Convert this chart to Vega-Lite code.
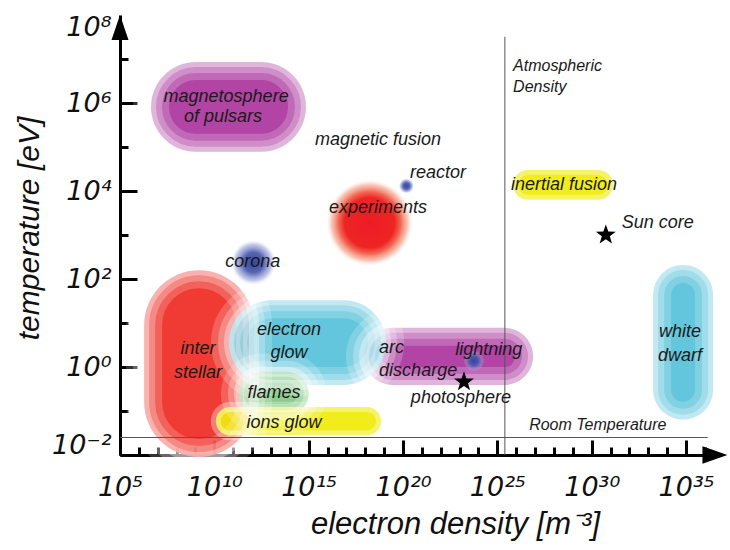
{
  "$schema": "https://vega.github.io/schema/vega-lite/v6.json",
  "width": 600,
  "height": 440,
  "autosize": {"type": "none"},
  "padding": {"left": 120, "top": 15, "right": 10, "bottom": 95},
  "background": "white",
  "config": {"view": {"stroke": null}},
  "datasets": {
    "refs": [
      {"name": "Atmospheric Density", "n": 2.5e25, "n2": 2.5e25, "T": 0.01, "T2": 3.2e7},
      {"name": "Room Temperature", "n": 1e5, "n2": 1.4e36, "T": 0.025, "T2": 0.025}
    ],
    "regions": [
      {"name": "magnetosphere of pulsars", "n": 4.4e6, "n2": 7.2e14, "T": 7.8e4, "T2": 8.5e6},
      {"name": "interstellar", "n": 1.9e6, "n2": 1.26e12, "T": 0.009, "T2": 158},
      {"name": "electron glow", "n": 6.0e10, "n2": 1.26e19, "T": 0.39, "T2": 33},
      {"name": "flames", "n": 2.0e11, "n2": 1.0e15, "T": 0.081, "T2": 0.78},
      {"name": "ions glow", "n": 1.2e10, "n2": 6.8e18, "T": 0.028, "T2": 0.123},
      {"name": "arc discharge", "n": 8.5e17, "n2": 7.8e26, "T": 0.39, "T2": 7.8},
      {"name": "inertial fusion", "n": 6.8e25, "n2": 1.35e31, "T": 6.3e3, "T2": 3.0e4},
      {"name": "white dwarf", "n": 1.8e33, "n2": 2.7e36, "T": 0.063, "T2": 209},
      {"name": "experiments", "n": 8.3e15, "n2": 3.4e20, "T": 138, "T2": 2.6e4},
      {"name": "corona", "n": 6.0e10, "n2": 2.3e13, "T": 72, "T2": 776},
      {"name": "reactor", "n": 6.0e19, "n2": 3.8e20, "T": 8.5e3, "T2": 2.0e4},
      {"name": "lightning", "n": 1.5e23, "n2": 2.2e24, "T": 0.78, "T2": 2.45}
    ],
    "stars": [
      {"name": "photosphere", "n": 1.7e23, "T": 0.46},
      {"name": "Sun core", "n": 5.6e30, "T": 1000}
    ],
    "arrow_y": [{"n": 1e5, "T": 5.2e7}],
    "arrow_x": [{"n": 3.4e36, "T": 0.01}],
    "labels": [
      {"label": "magnetosphere", "n": 4.2e10, "T": 1.4e6},
      {"label": "of pulsars", "n": 2.9e10, "T": 4.8e5},
      {"label": "magnetic fusion", "n": 4.7e18, "T": 1.45e5},
      {"label": "reactor", "n": 7.1e21, "T": 2.6e4},
      {"label": "experiments", "n": 4.7e18, "T": 4.1e3},
      {"label": "corona", "n": 1.1e12, "T": 245},
      {"label": "inter", "n": 1.35e9, "T": 2.57},
      {"label": "stellar", "n": 1.35e9, "T": 0.72},
      {"label": "electron", "n": 9.1e13, "T": 6.9},
      {"label": "glow", "n": 9.1e13, "T": 2.1},
      {"label": "flames", "n": 1.45e13, "T": 0.257},
      {"label": "ions glow", "n": 4.9e13, "T": 0.054},
      {"label": "lightning", "n": 3.5e24, "T": 2.45},
      {"label": "photosphere", "n": 1.17e23, "T": 0.2},
      {"label": "inertial fusion", "n": 3.4e28, "T": 1.38e4},
      {"label": "Sun core", "n": 3.2e33, "T": 1860},
      {"label": "white", "n": 4.8e34, "T": 6.3},
      {"label": "dwarf", "n": 4.8e34, "T": 1.78}
    ],
    "labels_left": [
      {"label": "arc", "n": 5.4e18, "T": 2.7},
      {"label": "discharge", "n": 5.4e18, "T": 0.81}
    ],
    "notes_left": [
      {"label": "Atmospheric", "n": 6.8e25, "T": 6.9e6},
      {"label": "Density", "n": 6.8e25, "T": 2.3e6}
    ],
    "notes": [
      {"label": "Room Temperature", "n": 2.1e30, "T": 0.048}
    ]
  },
  "encoding": {
    "x": {
      "field": "n",
      "type": "quantitative",
      "scale": {"type": "log", "domain": [1e5, 6.3e36], "nice": false},
      "axis": {
        "title": "electron density [m⁻³]",
        "values": [1e5,1e6,1e7,1e8,1e9,1e10,1e11,1e12,1e13,1e14,1e15,1e16,1e17,1e18,1e19,1e20,1e21,1e22,1e23,1e24,1e25,1e26,1e27,1e28,1e29,1e30,1e31,1e32,1e33,1e34,1e35,1e36],
        "grid": false,
        "domainColor": "#000",
        "domainWidth": 3,
        "tickColor": "#000",
        "tickWidth": 3,
        "tickSize": {"condition": {"test": "round(log(datum.value)/LN10) % 5 == 0", "value": -15}, "value": -8},
        "labelExpr": "(round(log(datum.value)/LN10) % 5 == 0) ? '10' + ['⁵','¹⁰','¹⁵','²⁰','²⁵','³⁰','³⁵'][round(log(datum.value)/LN10)/5 - 1] : ''",
        "labelFont": "DejaVu Sans",
        "labelFontStyle": "italic",
        "labelFontSize": 27,
        "labelColor": "#111",
        "labelPadding": 34,
        "labelOverlap": false,
        "labelBound": false,
        "labelFlush": false,
        "titleFont": "Liberation Sans",
        "titleFontStyle": "italic",
        "titleFontWeight": "normal",
        "titleFontSize": 31,
        "titleColor": "#111",
        "titleX": 335,
        "titleY": 78,
        "titleBaseline": "alphabetic",
        "titleAlign": "center"
      }
    },
    "y": {
      "field": "T",
      "type": "quantitative",
      "scale": {"type": "log", "domain": [0.01, 1e8], "nice": false},
      "axis": {
        "title": "temperature [eV]",
        "values": [0.01,0.1,1,10,100,1000,1e4,1e5,1e6,1e7,1e8],
        "grid": false,
        "domainColor": "#000",
        "domainWidth": 3,
        "tickColor": "#000",
        "tickWidth": 3,
        "tickSize": {"condition": {"test": "round(log(datum.value)/LN10) % 2 == 0", "value": -17}, "value": -8},
        "tickOpacity": {"condition": {"test": "datum.value > 5e7", "value": 0}, "value": 1},
        "labelExpr": "['10⁻²','','10⁰','','10²','','10⁴','','10⁶','','10⁸'][round(log(datum.value)/LN10) + 2]",
        "labelFont": "DejaVu Sans",
        "labelFontStyle": "italic",
        "labelFontSize": 27,
        "labelColor": "#111",
        "labelPadding": 26,
        "labelOffset": {"condition": [{"test": "datum.value < 0.02", "value": -10}, {"test": "datum.value > 5e7", "value": 12}], "value": 0},
        "labelOverlap": false,
        "labelBound": false,
        "labelFlush": false,
        "titleFont": "Liberation Sans",
        "titleFontStyle": "italic",
        "titleFontWeight": "normal",
        "titleFontSize": 30,
        "titleColor": "#111",
        "titleX": -82,
        "titleY": 213,
        "titleAngle": -90,
        "titleBaseline": "alphabetic",
        "titleAlign": "center"
      }
    }
  },
  "layer": [
    {
      "data": {"name": "regions"},
      "transform": [{"filter": {"field": "name", "oneOf": ["magnetosphere of pulsars", "arc discharge"]}}],
      "mark": {"type": "rect", "fill": "#a8309a", "opacity": 0.9, "cornerRadius": 999},
      "encoding": {"x2": {"field": "n2"}, "y2": {"field": "T2"}}
    },
    {
      "data": {"name": "regions"},
      "transform": [{"filter": {"field": "name", "oneOf": ["interstellar"]}}],
      "mark": {"type": "rect", "fill": "#ee2a22", "opacity": 0.92, "cornerRadius": 999},
      "encoding": {"x2": {"field": "n2"}, "y2": {"field": "T2"}}
    },
    {
      "data": {"name": "regions"},
      "transform": [{"filter": {"field": "name", "oneOf": ["electron glow", "white dwarf"]}}],
      "mark": {"type": "rect", "fill": "#52c0d8", "opacity": 0.9, "cornerRadius": 999},
      "encoding": {"x2": {"field": "n2"}, "y2": {"field": "T2"}}
    },
    {
      "data": {"name": "regions"},
      "transform": [{"filter": {"field": "name", "oneOf": ["flames"]}}],
      "mark": {"type": "rect", "fill": "#3aa83a", "opacity": 0.9, "cornerRadius": 999},
      "encoding": {"x2": {"field": "n2"}, "y2": {"field": "T2"}}
    },
    {
      "data": {"name": "regions"},
      "transform": [{"filter": {"field": "name", "oneOf": ["ions glow", "inertial fusion"]}}],
      "mark": {"type": "rect", "fill": "#f0ec0a", "opacity": 0.92, "cornerRadius": 999},
      "encoding": {"x2": {"field": "n2"}, "y2": {"field": "T2"}}
    },
    {
      "data": {"name": "regions"},
      "transform": [{"filter": {"field": "name", "oneOf": ["magnetosphere of pulsars", "arc discharge", "interstellar", "electron glow", "white dwarf", "flames"]}}],
      "mark": {"type": "rect", "fill": null, "stroke": "#ffffff", "strokeWidth": 36, "strokeOpacity": 0.2, "cornerRadius": 999},
      "encoding": {"x2": {"field": "n2"}, "y2": {"field": "T2"}}
    },
    {
      "data": {"name": "regions"},
      "transform": [{"filter": {"field": "name", "oneOf": ["magnetosphere of pulsars", "arc discharge", "interstellar", "electron glow", "white dwarf", "flames"]}}],
      "mark": {"type": "rect", "fill": null, "stroke": "#ffffff", "strokeWidth": 22, "strokeOpacity": 0.25, "cornerRadius": 999},
      "encoding": {"x2": {"field": "n2"}, "y2": {"field": "T2"}}
    },
    {
      "data": {"name": "regions"},
      "transform": [{"filter": {"field": "name", "oneOf": ["magnetosphere of pulsars", "arc discharge", "interstellar", "electron glow", "white dwarf", "flames", "ions glow", "inertial fusion"]}}],
      "mark": {"type": "rect", "fill": null, "stroke": "#ffffff", "strokeWidth": 10, "strokeOpacity": 0.35, "cornerRadius": 999},
      "encoding": {"x2": {"field": "n2"}, "y2": {"field": "T2"}}
    },
    {
      "data": {"name": "regions"},
      "transform": [{"filter": {"field": "name", "oneOf": ["experiments"]}}],
      "mark": {"type": "rect", "fill": {"gradient": "radial", "x1": 0.5, "y1": 0.5, "r1": 0, "x2": 0.5, "y2": 0.5, "r2": 0.5, "stops": [{"offset": 0, "color": "rgba(237,28,36,1)"}, {"offset": 0.5, "color": "rgba(238,36,36,1)"}, {"offset": 0.62, "color": "rgba(240,90,68,0.92)"}, {"offset": 0.76, "color": "rgba(245,150,125,0.55)"}, {"offset": 0.86, "color": "rgba(255,225,215,0)"}, {"offset": 1, "color": "rgba(255,255,255,0)"}]}},
      "encoding": {"x2": {"field": "n2"}, "y2": {"field": "T2"}}
    },
    {
      "data": {"name": "regions"},
      "transform": [{"filter": {"field": "name", "oneOf": ["corona", "reactor", "lightning"]}}],
      "mark": {"type": "rect", "fill": {"gradient": "radial", "x1": 0.5, "y1": 0.5, "r1": 0, "x2": 0.5, "y2": 0.5, "r2": 0.5, "stops": [{"offset": 0, "color": "rgba(55,68,160,1)"}, {"offset": 0.42, "color": "rgba(72,88,172,0.92)"}, {"offset": 0.75, "color": "rgba(140,150,210,0.5)"}, {"offset": 0.92, "color": "rgba(215,220,245,0)"}, {"offset": 1, "color": "rgba(255,255,255,0)"}]}},
      "encoding": {"x2": {"field": "n2"}, "y2": {"field": "T2"}}
    },
    {
      "data": {"name": "refs"},
      "mark": {"type": "rule", "color": "#555", "strokeWidth": 1},
      "encoding": {"x2": {"field": "n2"}, "y2": {"field": "T2"}}
    },
    {
      "data": {"name": "stars"},
      "mark": {"type": "point", "shape": "M0,-1L0.235,-0.324L0.951,-0.309L0.38,0.124L0.588,0.809L0,0.4L-0.588,0.809L-0.38,0.124L-0.951,-0.309L-0.235,-0.324Z", "filled": true, "color": "#000", "opacity": 1, "size": 440}
    },
    {
      "data": {"name": "arrow_y"},
      "mark": {"type": "point", "shape": "M0,-1L0.68,1L-0.68,1Z", "filled": true, "color": "#000", "opacity": 1, "size": 625}
    },
    {
      "data": {"name": "arrow_x"},
      "mark": {"type": "point", "shape": "M1,0L-1,0.7L-1,-0.7Z", "filled": true, "color": "#000", "opacity": 1, "size": 625}
    },
    {
      "data": {"name": "labels"},
      "mark": {"type": "text", "font": "Liberation Sans", "fontStyle": "italic", "fontSize": 18, "color": "#1a1a1a", "align": "center", "baseline": "middle"},
      "encoding": {"text": {"field": "label"}}
    },
    {
      "data": {"name": "labels_left"},
      "mark": {"type": "text", "font": "Liberation Sans", "fontStyle": "italic", "fontSize": 18, "color": "#1a1a1a", "align": "left", "baseline": "middle"},
      "encoding": {"text": {"field": "label"}}
    },
    {
      "data": {"name": "notes_left"},
      "mark": {"type": "text", "font": "Liberation Sans Narrow, Liberation Sans", "fontStyle": "italic", "fontSize": 16, "color": "#1a1a1a", "align": "left", "baseline": "middle"},
      "encoding": {"text": {"field": "label"}}
    },
    {
      "data": {"name": "notes"},
      "mark": {"type": "text", "font": "Liberation Sans Narrow, Liberation Sans", "fontStyle": "italic", "fontSize": 16, "color": "#1a1a1a", "align": "center", "baseline": "middle"},
      "encoding": {"text": {"field": "label"}}
    }
  ]
}
